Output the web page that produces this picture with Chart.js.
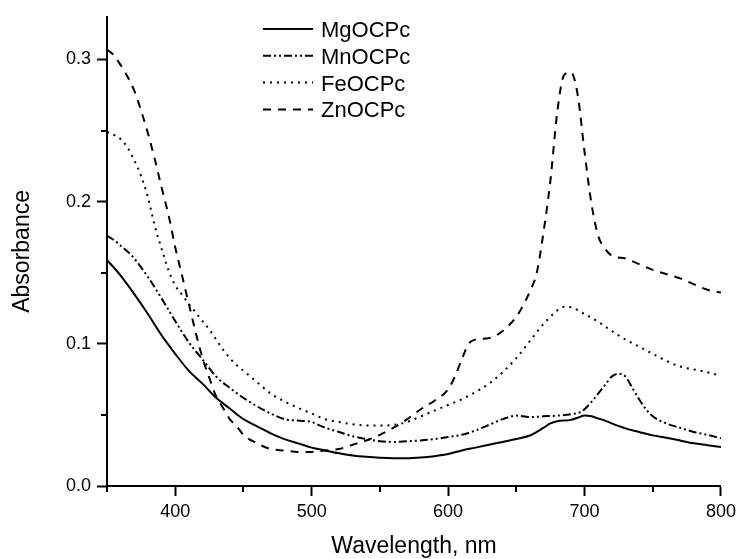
<!DOCTYPE html>
<html>
<head>
<meta charset="utf-8">
<script src="https://cdn.jsdelivr.net/npm/chart.js@4.4.1/dist/chart.umd.min.js"></script>
<style>
    html, body { margin: 0; padding: 0; background: #fff; }
    #wrap { width: 741px; height: 559px; }
</style>
</head>
<body>
<div id="wrap"><canvas id="chart" width="741" height="559"></canvas></div>
<script>
// wavelength (nm) / absorbance
const mgWl = [350,360,370,380,390,400,410,420,430,440,450,460,470,480,490,500,510,520,530,540,550,560,570,580,590,600,610,620,630,640,650,660,665,670,675,680,690,695,700,705,710,715,720,730,740,750,760,770,780,790,800];
const mgAbs = [0.159,0.148,0.135,0.121,0.106,0.093,0.081,0.072,0.062,0.0545,0.047,0.042,0.037,0.033,0.030,0.027,0.025,0.023,0.0215,0.0205,0.0198,0.0195,0.0195,0.020,0.021,0.0225,0.025,0.027,0.029,0.031,0.033,0.0355,0.038,0.041,0.044,0.0455,0.0465,0.048,0.0495,0.049,0.0475,0.046,0.044,0.0405,0.038,0.0356,0.034,0.032,0.030,0.0287,0.0274];

const mnWl = [350,355,360,365,370,380,390,400,410,420,430,440,450,460,470,480,490,500,505,510,520,530,540,550,560,570,580,590,600,610,620,630,640,650,660,670,680,690,697,700,705,710,715,720,725,730,735,740,745,750,760,770,780,790,800];
const mnAbs = [0.176,0.173,0.169,0.165,0.160,0.147,0.132,0.116,0.101,0.089,0.077,0.069,0.062,0.056,0.051,0.047,0.046,0.045,0.043,0.041,0.038,0.035,0.033,0.0315,0.031,0.0315,0.032,0.033,0.0345,0.036,0.039,0.043,0.047,0.0495,0.0485,0.049,0.0495,0.0505,0.052,0.054,0.059,0.065,0.071,0.077,0.079,0.077,0.069,0.061,0.054,0.049,0.044,0.041,0.038,0.036,0.0335];

const feWl = [350,355,360,365,370,375,380,385,390,395,400,405,410,415,420,425,430,435,440,445,450,460,470,480,490,500,510,520,530,540,550,560,570,580,590,600,610,620,630,640,650,660,670,680,685,690,700,710,720,730,740,750,760,770,780,790,800];
const feAbs = [0.249,0.247,0.244,0.238,0.229,0.218,0.203,0.183,0.167,0.152,0.141,0.1345,0.128,0.122,0.116,0.110,0.103,0.096,0.090,0.085,0.081,0.073,0.065,0.0595,0.055,0.051,0.047,0.045,0.0435,0.0425,0.0425,0.043,0.045,0.049,0.053,0.057,0.061,0.066,0.072,0.080,0.090,0.102,0.114,0.1235,0.126,0.1257,0.121,0.1155,0.109,0.103,0.098,0.093,0.088,0.084,0.082,0.080,0.0775];

const znWl = [350,355,360,365,370,375,380,385,390,395,400,405,410,415,420,425,430,435,440,445,450,460,470,480,490,500,510,520,530,540,550,560,570,580,590,600,605,610,615,620,630,640,650,655,660,665,670,675,680,685,690,695,700,705,710,715,720,730,740,750,760,770,780,790,800];
const znAbs = [0.307,0.303,0.296,0.288,0.278,0.264,0.248,0.230,0.210,0.191,0.168,0.148,0.128,0.108,0.090,0.076,0.063,0.055,0.047,0.042,0.036,0.030,0.026,0.025,0.024,0.024,0.025,0.026,0.029,0.032,0.036,0.041,0.047,0.054,0.060,0.068,0.077,0.089,0.100,0.103,0.104,0.109,0.119,0.127,0.137,0.150,0.179,0.215,0.263,0.289,0.291,0.275,0.235,0.199,0.176,0.167,0.162,0.160,0.156,0.152,0.149,0.146,0.142,0.138,0.136];

const seriesNames = ["MgOCPc", "MnOCPc", "FeOCPc", "ZnOCPc"];
const xTicks = [400, 500, 600, 700, 800];
const yTicks = [0.0, 0.1, 0.2, 0.3];
const xMinor = [350, 450, 550, 650, 750];
const yMinor = [0.05, 0.15, 0.25];

const FONT = "'Liberation Sans', Arial, sans-serif";

function pairs(xs, ys) {
    return xs.map((x, i) => ({ x: x, y: ys[i] }));
}

function line(label, xs, ys, dash) {
    return {
        label: label,
        data: pairs(xs, ys),
        borderColor: "#000",
        borderWidth: 2,
        borderDash: dash,
        pointRadius: 0,
        cubicInterpolationMode: "monotone",
        fill: false
    };
}

// minor ticks, short and outward like the major ones
const minorTicks = {
    id: "minorTicks",
    afterDraw(chart) {
        const { ctx, chartArea: a, scales: { x, y } } = chart;
        ctx.save();
        ctx.strokeStyle = "#000";
        ctx.lineWidth = 2;
        ctx.beginPath();
        xMinor.forEach(v => {
            const px = Math.round(x.getPixelForValue(v));
            ctx.moveTo(px, a.bottom);
            ctx.lineTo(px, a.bottom + 6);
        });
        yMinor.forEach(v => {
            const py = Math.round(y.getPixelForValue(v));
            ctx.moveTo(a.left, py);
            ctx.lineTo(a.left - 6, py);
        });
        ctx.stroke();
        ctx.restore();
    }
};

// legend inside the plot, top middle
const innerLegend = {
    id: "innerLegend",
    afterDraw(chart) {
        const ctx = chart.ctx;
        const x0 = 263, x1 = 313, tx = 321, top = 29, step = 26.8;
        ctx.save();
        ctx.font = "22px " + FONT;
        ctx.fillStyle = "#000";
        ctx.textBaseline = "alphabetic";
        chart.data.datasets.forEach((ds, i) => {
            const yy = top + i * step;
            ctx.strokeStyle = "#000";
            ctx.lineWidth = 2;
            ctx.setLineDash(ds.borderDash || []);
            ctx.beginPath();
            ctx.moveTo(x0, yy);
            ctx.lineTo(x1, yy);
            ctx.stroke();
            ctx.setLineDash([]);
            ctx.fillText(ds.label, tx, yy + 8);
        });
        ctx.restore();
    }
};

const ctx = document.getElementById("chart").getContext("2d");
new Chart(ctx, {
    type: "line",
    data: {
        datasets: [
            line(seriesNames[0], mgWl, mgAbs, []),
            line(seriesNames[1], mnWl, mnAbs, [8, 3, 2, 3, 2, 3]),
            line(seriesNames[2], feWl, feAbs, [2, 5]),
            line(seriesNames[3], znWl, znAbs, [8, 7])
        ]
    },
    options: {
        responsive: false,
        animation: false,
        devicePixelRatio: 1,
        layout: { padding: { left: 0, top: 13, right: 17, bottom: 0 } },
        plugins: { legend: { display: false }, tooltip: { enabled: false } },
        scales: {
            x: {
                type: "linear",
                min: 350,
                max: 800,
                afterFit: s => { s.height = 73; },
                afterBuildTicks: s => { s.ticks = xTicks.map(v => ({ value: v })); },
                ticks: {
                    color: "#000",
                    font: { family: FONT, size: 18 },
                    padding: 5,
                    maxRotation: 0,
                    callback: v => String(v)
                },
                grid: { drawOnChartArea: false, drawTicks: true, tickLength: 10, tickWidth: 2, tickColor: "#000" },
                border: { display: true, color: "#000", width: 2 },
                title: {
                    display: true,
                    text: "Wavelength, nm",
                    color: "#000",
                    font: { family: FONT, size: 23, lineHeight: 1 },
                    padding: { top: 0, bottom: 1 }
                }
            },
            y: {
                type: "linear",
                min: 0,
                max: 0.33,
                afterFit: s => { s.width = 107; },
                afterBuildTicks: s => { s.ticks = yTicks.map(v => ({ value: v })); },
                ticks: {
                    color: "#000",
                    font: { family: FONT, size: 18 },
                    padding: 6,
                    callback: v => Number(v).toFixed(1)
                },
                grid: { drawOnChartArea: false, drawTicks: true, tickLength: 10, tickWidth: 2, tickColor: "#000" },
                border: { display: true, color: "#000", width: 2 },
                title: {
                    display: true,
                    text: "Absorbance",
                    color: "#000",
                    font: { family: FONT, size: 23, lineHeight: 1 },
                    padding: { top: 11, bottom: 0 }
                }
            }
        }
    },
    plugins: [minorTicks, innerLegend]
});
</script>
</body>
</html>
